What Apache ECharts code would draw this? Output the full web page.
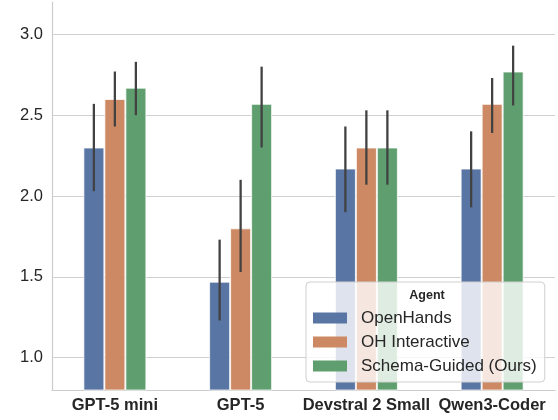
<!DOCTYPE html>
<html>
<head>
<meta charset="utf-8">
<script src="https://cdn.jsdelivr.net/npm/echarts@6/dist/echarts.min.js"></script>
<style>html,body{margin:0;padding:0;background:#fff;}#c{width:558px;height:420px;}</style>
</head>
<body>
<div id="c"></div>
<script>
const categories = ['GPT-5 mini', 'GPT-5', 'Devstral 2 Small', 'Qwen3-Coder'];
const agents = ['OpenHands', 'OH Interactive', 'Schema-Guided (Ours)'];
const colors = ['#5975a4', '#cc8963', '#5f9e6e'];
const openHands = [2.30, 1.47, 2.17, 2.17];
const openHandsLow = [2.03, 1.23, 1.90, 1.93];
const openHandsHigh = [2.57, 1.73, 2.43, 2.40];
const ohInteractive = [2.60, 1.80, 2.30, 2.57];
const ohInteractiveLow = [2.43, 1.53, 2.07, 2.39];
const ohInteractiveHigh = [2.77, 2.10, 2.53, 2.73];
const schemaGuided = [2.67, 2.57, 2.30, 2.77];
const schemaGuidedLow = [2.50, 2.30, 2.07, 2.56];
const schemaGuidedHigh = [2.83, 2.80, 2.53, 2.93];
const yTicks = [1.0, 1.5, 2.0, 2.5, 3.0];

const values = [openHands, ohInteractive, schemaGuided];
const lows = [openHandsLow, ohInteractiveLow, schemaGuidedLow];
const highs = [openHandsHigh, ohInteractiveHigh, schemaGuidedHigh];

const FONT = "'Liberation Sans', Arial, sans-serif";
const BAR_W = 21;
const series = [];
agents.forEach((name, k) => {
  series.push({
    name: name,
    type: 'bar',
    barWidth: BAR_W,
    barGap: '0%',
    data: values[k],
    itemStyle: { color: colors[k], borderColor: 'rgba(255,255,255,0.75)', borderWidth: 1 },
    z: 2
  });
});
agents.forEach((name, k) => {
  const offset = (k - 1) * BAR_W;
  series.push({
    type: 'custom',
    name: name + '_err',
    data: categories.map((c, i) => [i, lows[k][i], highs[k][i]]),
    encode: { x: 0, y: [1, 2] },
    z: 5,
    silent: true,
    renderItem: function (params, api) {
      const i = api.value(0);
      const p1 = api.coord([i, api.value(1)]);
      const p2 = api.coord([i, api.value(2)]);
      const x = p1[0] + offset;
      return {
        type: 'line',
        shape: { x1: x, y1: p1[1], x2: x, y2: p2[1] },
        style: { stroke: '#424242', lineWidth: 2.3 }
      };
    }
  });
});

const chart = echarts.init(document.getElementById('c'), null, { renderer: 'canvas' });
chart.setOption({
  animation: false,
  backgroundColor: '#ffffff',
  textStyle: { fontFamily: FONT },
  title: {
    text: 'Agent',
    left: 427,
    top: 289,
    textAlign: 'center',
    padding: 0,
    textStyle: { fontFamily: FONT, fontWeight: 'bold', fontSize: 12.5, color: '#262626' }
  },
  legend: {
    data: agents,
    orient: 'vertical',
    left: 306,
    top: 282,
    padding: [27.5, 8, 7.5, 7],
    itemWidth: 34,
    itemHeight: 11,
    itemGap: 7,
    icon: 'rect',
    backgroundColor: 'rgba(255,255,255,0.8)',
    borderColor: '#d0d0d0',
    borderWidth: 1,
    borderRadius: 4,
    itemStyle: { borderWidth: 0 },
    textStyle: { fontFamily: FONT, fontSize: 17, color: '#262626', padding: [0, 0, 0, 9] }
  },
  grid: { left: 52, right: 3, top: 2, bottom: 30, containLabel: false },
  xAxis: {
    type: 'category',
    data: categories,
    axisLine: { show: true, lineStyle: { color: '#cccccc', width: 1.2 } },
    axisTick: { show: false },
    axisLabel: { margin: 7, fontFamily: FONT, fontWeight: 'bold', fontSize: 16.5, color: '#262626', interval: 0 },
    splitLine: { show: false }
  },
  yAxis: {
    type: 'value',
    min: 0.8,
    max: 3.2,
    axisLine: { show: true, lineStyle: { color: '#cccccc', width: 1.2 } },
    axisTick: { show: false, customValues: yTicks },
    axisLabel: {
      customValues: yTicks,
      margin: 9,
      fontFamily: FONT,
      fontSize: 16.5,
      color: '#262626',
      formatter: v => v.toFixed(1)
    },
    splitLine: { show: true, lineStyle: { color: '#d0d0d0', width: 1 } }
  },
  series: series
});
</script>
</body>
</html>
